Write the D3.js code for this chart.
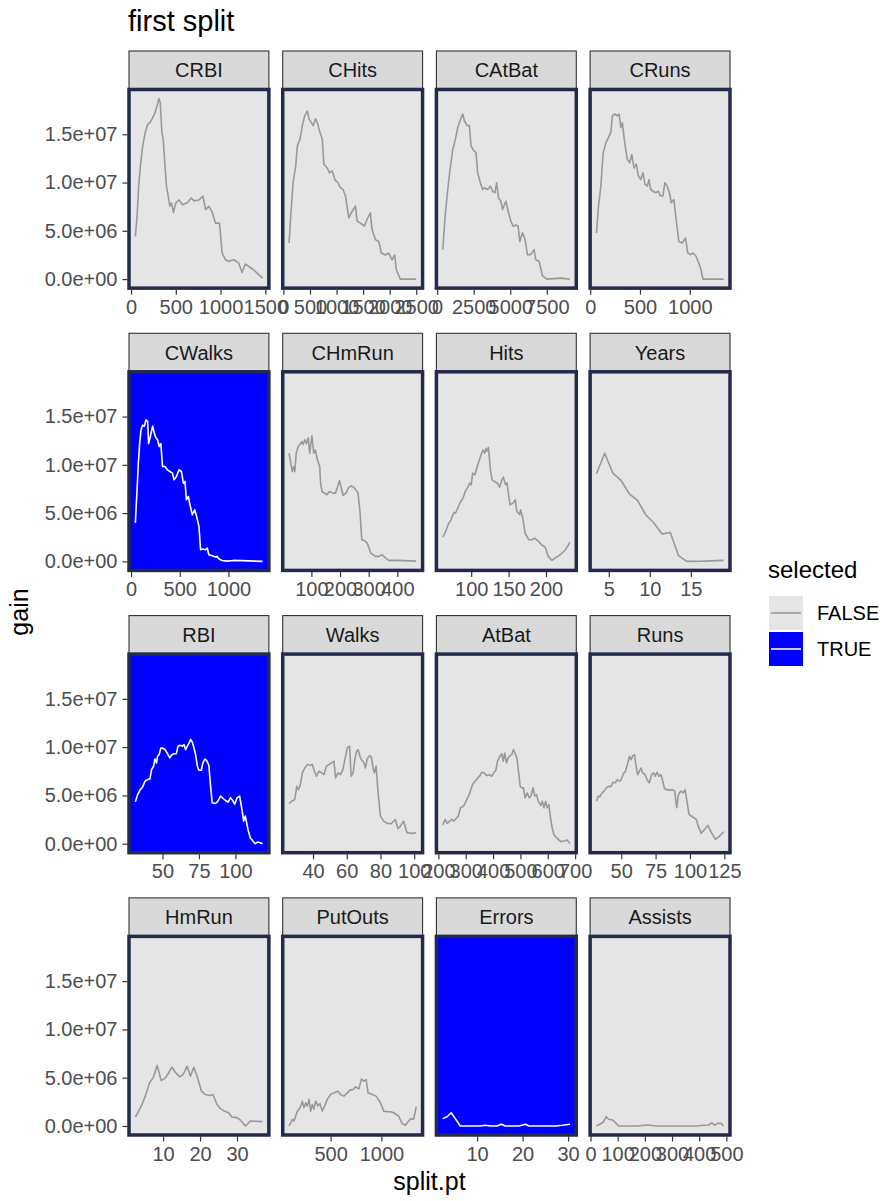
<!DOCTYPE html>
<html>
<head>
<meta charset="utf-8">
<script src="https://cdnjs.cloudflare.com/ajax/libs/d3/7.8.5/d3.min.js"></script>
<style>
body { margin: 0; background: #ffffff; }
text { font-family: "Liberation Sans", Arial, Helvetica, sans-serif; }
</style>
</head>
<body>
<svg width="886" height="1201"></svg>
<script>
// facet order and which variables got picked
var panelNames = ["CRBI", "CHits", "CAtBat", "CRuns", "CWalks", "CHmRun", "Hits", "Years",
    "RBI", "Walks", "AtBat", "Runs", "HmRun", "PutOuts", "Errors", "Assists"];
var selectedPanels = ["CWalks", "RBI", "Errors"];
var legendLabels = ["FALSE", "TRUE"];

// gain values are in millions
var GAIN_UNIT = 1e6;

var crbiSplit = [48,67,85,104,130,159,185,211,240,266,289,311,326,344,359,377,396,415,433,452,474,500,537,574,629,674,703,759,803,833,870,907,944,988,1018,1055,1092,1147,1203,1240,1277,1369,1469];
var crbiGain = [4.43,6.5,9.6,11.7,13.8,15.2,16.0,16.2,16.7,17.2,17.9,18.7,18.3,15.2,14.5,12.0,9.6,8.6,7.55,7.9,6.9,7.9,8.2,7.7,7.9,8.4,8.1,8.2,8.6,7.2,7.55,6.9,5.8,5.8,2.7,2.0,1.84,2.0,1.66,0.69,1.56,0.97,0.1];

var chitsSplit = [106,137,181,231,262,312,356,400,450,481,525,562,606,650,687,731,762,825,869,919,969,1025,1075,1119,1169,1231,1294,1356,1387,1450,1525,1575,1637,1669,1731,1794,1844,1919,1981,2044,2094,2125,2200,2500];
var chitsGain = [3.74,6.5,9.98,11.7,13.8,14.5,15.9,16.9,17.4,16.6,16.2,15.9,16.6,16.0,15.2,14.5,11.9,11.5,11.0,11.2,10.3,9.98,9.46,9.3,8.6,6.34,7.03,7.55,6.0,5.8,5.5,6.2,6.86,5.1,4.09,3.9,2.7,2.5,2.7,2.0,2.5,0.97,0,0];

var catbatSplit = [386,545,727,886,1068,1250,1409,1568,1750,1863,2045,2204,2318,2500,2659,2772,2954,3113,3227,3454,3636,3795,3954,4068,4200,4359,4473,4700,4858,5040,5200,5380,5540,5650,5835,6015,6175,6400,6630,6740,6970,7200,7500,8450,9080];
var catbatGain = [3.05,6.5,9.28,11.4,13.4,14.5,15.7,16.4,17.1,16.4,15.9,15.9,13.8,13.3,13.1,11.0,9.98,9.28,9.46,9.28,9.63,9.1,8.94,9.98,8.4,8.07,7.2,8.07,7.03,6.0,5.47,5.6,5.47,3.9,4.8,4.1,2.53,2.53,3.05,2.0,1.84,0.35,0,0.1,0];

var crunsSplit = [63,83,107,130,157,183,207,223,250,273,290,307,323,340,357,373,397,417,440,463,483,507,530,550,573,590,607,630,657,683,707,730,750,773,800,813,840,863,890,923,957,980,1007,1033,1063,1090,1113,1133,1340];
var crunsGain = [4.78,7.55,9.63,13.1,14.1,14.65,15.2,16.9,17.1,16.9,17.1,15.7,16.2,14.65,13.4,12.4,12.05,12.9,11.5,11.9,10.7,10.3,11.0,9.8,9.63,10.3,9.28,9.1,8.94,9.1,8.6,8.6,9.98,9.63,8.76,7.9,8.24,6.17,3.91,3.74,4.26,2.7,2.53,2.7,2.36,1.66,0.97,0,0];

var cwalksSplit = [44,58,75,88,102,119,136,153,170,180,197,221,238,255,272,289,306,323,347,374,398,425,442,466,493,517,537,554,568,588,605,629,653,673,697,714,738,765,782,799,833,867,884,901,935,986,1054,1350];
var cwalksGain = [3.97,6.72,10.2,12.2,13.6,14.1,14.0,14.65,14.5,12.2,12.9,14.0,13.3,12.8,12.6,11.9,12.2,9.83,9.83,9.48,9.31,9.14,8.45,8.79,9.48,9.31,8.1,8.28,6.38,6.72,5.86,4.83,5.34,4.66,3.62,1.21,1.28,1.21,1.38,0.69,0.59,0.45,0.52,0.28,0.1,0.03,0.1,0];

var chmrunSplit = [22,28,33,38,42,47,54,60,66,71,77,83,89,94,102,108,114,121,129,132,137,146,154,163,175,184,192,198,203,211,221,229,238,247,255,263,270,276,284,295,307,324,336,347,359,370,399,466];
var chmrunGain = [11.2,10.2,9.3,9.83,9.3,11.2,11.9,12.1,12.4,12.1,12.6,12.2,12.8,11.2,13.0,11.2,11.55,10.5,9.83,8.1,7.24,7.07,6.9,7.24,7.07,7.07,7.76,8.38,7.76,6.83,7.07,7.6,7.83,7.69,7.41,7.07,5.0,2.24,2.17,1.9,0.86,0.52,0.52,0.69,0.34,0.1,0.1,0.03];

var hitsSplit = [62,66,69,73,75,77,79,82,86,89,92,96,98,100,102,105,108,111,114,116,118,120,121,123,126,128,131,135,138,141,143,146,148,150,152,156,159,161,165,166,169,172,177,181,185,190,194,199,203,208,212,219,226,232];
var hitsGain = [2.52,3.1,3.8,4.3,4.72,5.07,5.0,5.5,6.2,6.55,7.24,7.76,8.1,7.93,9.14,8.97,9.83,10.5,11.2,11.55,11.2,11.7,11.4,11.8,9.3,8.45,8.28,8.1,7.69,8.45,8.72,7.93,8.1,6.9,5.86,6.03,6.38,5.17,4.83,5.34,4.48,2.93,2.24,2.24,2.41,2.07,1.72,1.45,0.52,0.1,0.34,0.69,1.21,1.97];

var yearsSplit = [3.5,4.5,5.5,6.5,7.5,8.5,9.5,10.5,11.5,12.5,13.5,14.5,16,17.5,19];
var yearsGain = [9.07,11.2,9.14,8.38,7.0,6.31,4.83,3.97,2.83,3.0,0.59,0,0.02,0.05,0.1];

var rbiSplit = [31.4,33,34.8,36.4,38,39.8,41.4,42.5,43.9,44.8,45.9,46.6,47.7,48.9,50,51.8,53.4,55,56.4,58,59.5,60.7,62,63.6,64.8,65.9,67,68.2,69.3,70.5,71.6,72.7,73.9,75,76.6,77.7,79.1,80.2,81.8,83,84.1,86.4,88,89.8,91.6,93.2,95,96.6,98.2,99.5,101.1,102.9,104.5,105.7,106.8,108.6,110.2,112,113.6,115.2,117,118.6];
var rbiGain = [4.33,5.09,5.6,5.88,6.47,6.64,6.71,7.67,8.02,8.77,8.36,9.05,9.22,9.91,9.91,9.74,9.32,8.88,9.22,9.32,9.32,10.1,10.2,10.1,10.25,9.74,10.1,10.4,10.8,10.5,9.91,9.22,8.02,7.6,7.6,8.36,8.77,8.63,8.12,5.95,4.23,4.16,4.4,4.92,4.68,4.47,4.3,4.75,4.47,4.09,4.75,4.92,3.54,2.34,2.86,1.48,0.62,0.28,0,0.17,0.1,0];

var walksSplit = [25.8,27.4,29.2,30.4,31.3,32.3,33.7,35.1,36.7,38.2,39.6,40.6,42,43.5,45.1,46.5,47.9,49.4,51,52.4,53.4,54.8,56.3,57.7,58.9,60.3,61.7,62.6,63.8,64.8,65.8,66.8,67.8,68.7,70.1,71.1,72.1,73.5,74.6,75.6,76.4,77.4,78.6,80,81.9,83.9,86.3,88.8,90.4,91.8,93.7,95.7,98.7,101.2];
var walksGain = [4.16,4.4,4.58,5.95,5.6,5.95,7.33,7.84,8.19,8.12,8.19,7.6,6.98,7.5,7.33,7.15,8.02,8.19,8.36,8.53,6.81,7.33,7.15,7.67,8.7,9.91,10.1,6.98,7.33,8.7,9.56,9.74,9.05,8.7,8.43,7.84,8.77,9.12,8.98,7.84,7.33,8.02,5.26,2.86,2.34,2.1,2.06,2.51,1.55,1.82,2.34,1.14,1.07,1.14];

var atbatSplit = [216,225,232,241,249,256,265,273,281,292,301,310,317,325,334,344,352,359,368,376,386,395,402,410,416,425,432,437,443,449,455,462,468,474,481,487,493,499,505,511,517,525,532,538,546,552,559,565,574,580,586,592,598,604,610,616,622,632,647,659,671,681];
var atbatGain = [1.93,2.51,2.1,2.34,2.51,2.34,2.61,2.86,3.72,3.89,4.4,4.92,5.44,6.12,6.47,6.81,7.05,7.4,7.33,7.05,7.15,6.98,7.33,7.6,8.53,9.05,9.32,8.53,9.39,8.36,8.88,9.12,9.22,9.74,9.32,8.88,7.5,5.95,5.78,5.78,4.75,5.26,4.75,4.92,5.78,4.92,5.09,4.4,3.96,4.4,3.72,4.4,3.72,4.06,2.68,1.65,0.96,0.62,0.21,0.28,0.38,0.03];

var runsSplit = [32,33.2,34.4,36.1,37.5,39.2,40.9,42.3,44,45.7,47.1,48.8,50,51.7,53.1,54.8,56,57.2,58.4,59.6,60.8,62,63.2,64.4,65.6,67.3,68.8,70.4,72.1,73.6,74.8,76,77.6,78.8,80,81.3,82.5,84.1,85.6,87.3,88.9,90.4,91.6,93.3,95,96.4,97.6,99.3,101.7,104.6,106,108.2,110.6,113,115.6,118.5,121.6,124.5];
var runsGain = [4.4,4.92,4.85,5.26,5.44,5.78,5.95,5.88,6.36,6.3,6.64,6.47,6.64,7.26,7.5,8.36,9.05,8.7,9.12,9.22,8.02,7.15,7.5,7.84,7.33,7.15,6.64,6.3,7.15,7.33,6.98,7.4,6.98,7.15,6.64,5.78,5.6,5.6,5.54,5.6,5.44,3.72,5.09,5.44,5.26,5.6,4.58,3.03,2.79,2.51,1.82,1.07,1.48,1.89,1.14,0.45,0.79,1.24];

var hmrunSplit = [2.5,3.4,4.3,5.2,6.3,7.3,8.4,9.5,10.6,11.5,12.4,13.3,14.5,15.4,16.5,17.4,18.3,19.2,20.4,21.4,22.6,23.5,24.6,25.5,26.6,27.7,28.6,30,30.9,32.3,33.6,36.9];
var hmrunGain = [0.93,1.54,2.23,3.09,4.46,4.98,6.25,4.7,4.98,5.49,6.08,5.56,5.08,5.32,6.18,5.15,6.08,5.15,3.6,3.26,3.16,3.26,2.23,1.79,1.54,1.37,0.93,0.86,0.62,0,0.51,0.45];

var putoutsSplit = [91,108,124,140,157,173,189,206,222,238,255,271,287,304,320,336,353,376,395,418,441,467,500,533,572,598,631,664,690,722,745,778,804,827,850,869,909,948,991,1023,1056,1089,1121,1170,1203,1236,1268,1291,1317,1343];
var putoutsGain = [0,0.34,0.69,0.51,1.03,1.54,1.72,2.06,2.57,1.89,2.4,2.06,2.75,1.54,2.23,1.72,2.57,2.06,2.33,1.54,2.06,2.75,3.26,3.43,3.6,3.26,3.09,3.43,3.71,3.78,4.05,3.84,4.87,4.63,4.8,3.43,3.26,3.09,2.4,1.54,1.48,1.48,1.37,1.03,0.27,0.07,0.51,0.76,0.69,1.99];

var errorsSplit = [2.45,3.4,4.3,5.2,6.3,7.8,9.3,10.7,11.8,12.9,14.4,15.3,16.2,17.7,19.2,20.6,21.4,22.5,23.9,25.4,27.2,28.7,30.4];
var errorsGain = [0.76,0.96,1.37,0.76,0,0,0,0,0.07,0,0,0.17,0,0,0,0.17,0,0,0,0,0,0.07,0.17];

var assistsSplit = [22,34,47,58,67,80,92,104,135,172,208,245,294,343,392,417,435,447,456,468,480,490];
var assistsGain = [0,0.17,0.41,0.96,0.69,0.62,0.34,0,0,0,0.1,0,0,0,0,0.07,0.1,0.34,0.07,0.27,0.27,0];

// x tick values per facet (free x scales)
var crbiTicks = [0, 500, 1000, 1500];
var chitsTicks = [0, 500, 1000, 1500, 2000, 2500];
var catbatTicks = [0, 2500, 5000, 7500];
var crunsTicks = [0, 500, 1000];
var cwalksTicks = [0, 500, 1000];
var chmrunTicks = [100, 200, 300, 400];
var hitsTicks = [100, 150, 200];
var yearsTicks = [5, 10, 15];
var rbiTicks = [50, 75, 100];
var walksTicks = [40, 60, 80, 100];
var atbatTicks = [200, 300, 400, 500, 600, 700];
var runsTicks = [50, 75, 100, 125];
var hmrunTicks = [10, 20, 30];
var putoutsTicks = [500, 1000];
var errorsTicks = [10, 20, 30];
var assistsTicks = [0, 100, 200, 300, 400, 500];

var yTicks = [0, 5e6, 1e7, 1.5e7];
var yTickLabels = ["0.0e+00", "5.0e+06", "1.0e+07", "1.5e+07"];

var panelData = {
    CRBI: [crbiSplit, crbiGain, crbiTicks],
    CHits: [chitsSplit, chitsGain, chitsTicks],
    CAtBat: [catbatSplit, catbatGain, catbatTicks],
    CRuns: [crunsSplit, crunsGain, crunsTicks],
    CWalks: [cwalksSplit, cwalksGain, cwalksTicks],
    CHmRun: [chmrunSplit, chmrunGain, chmrunTicks],
    Hits: [hitsSplit, hitsGain, hitsTicks],
    Years: [yearsSplit, yearsGain, yearsTicks],
    RBI: [rbiSplit, rbiGain, rbiTicks],
    Walks: [walksSplit, walksGain, walksTicks],
    AtBat: [atbatSplit, atbatGain, atbatTicks],
    Runs: [runsSplit, runsGain, runsTicks],
    HmRun: [hmrunSplit, hmrunGain, hmrunTicks],
    PutOuts: [putoutsSplit, putoutsGain, putoutsTicks],
    Errors: [errorsSplit, errorsGain, errorsTicks],
    Assists: [assistsSplit, assistsGain, assistsTicks]
};

var svg = d3.select("svg");

var col = d3.scaleBand().domain(d3.range(4)).range([129, 730]).paddingInner(0.09);
var row = d3.scaleBand().domain(d3.range(4)).range([51, 1135]).paddingInner(0.16);
var stripH = 38.5;

var borderColor = "#222B4B";
var selFill = "#0000FF";
var bgFill = "#E5E5E5";

// shared y scale, ggplot style 5% expansion
var allGains = [];
panelNames.forEach(function(n) { allGains = allGains.concat(panelData[n][1]); });
var gMin = d3.min(allGains) * GAIN_UNIT, gMax = d3.max(allGains) * GAIN_UNIT;
var gPad = (gMax - gMin) * 0.05;

svg.append("text")
    .attr("x", 128).attr("y", 31)
    .style("font-size", "29px")
    .style("fill", "#000")
    .text("first split");

panelNames.forEach(function(name, i) {
    var c = i % 4, r = Math.floor(i / 4);
    var left = col(c), w = col.bandwidth();
    var stripTop = row(r);
    var top = stripTop + stripH, bottom = stripTop + row.bandwidth();
    var d = panelData[name];
    var xs = d[0], gs = d[1], ticks = d[2];
    var sel = selectedPanels.indexOf(name) >= 0;

    var xmin = d3.min(xs), xmax = d3.max(xs), xpad = (xmax - xmin) * 0.05;
    var x = d3.scaleLinear().domain([xmin - xpad, xmax + xpad]).range([left, left + w]);
    var y = d3.scaleLinear().domain([gMin - gPad, gMax + gPad]).range([bottom, top]);

    var g = svg.append("g").attr("class", "panel");

    g.append("rect")
        .attr("x", left).attr("y", top)
        .attr("width", w).attr("height", bottom - top)
        .style("fill", sel ? selFill : bgFill);

    var line = d3.line()
        .x(function(j) { return x(xs[j]); })
        .y(function(j) { return y(gs[j] * GAIN_UNIT); });

    g.append("path")
        .datum(d3.range(xs.length))
        .attr("d", line)
        .style("fill", "none")
        .style("stroke", sel ? "#FFFFFF" : "#999999")
        .style("stroke-width", 1.6)
        .style("stroke-linejoin", "round");

    // strip
    g.append("rect")
        .attr("x", left).attr("y", stripTop)
        .attr("width", w).attr("height", stripH)
        .style("fill", "#D9D9D9")
        .style("stroke", "#333333")
        .style("stroke-width", 1.1);
    g.append("text")
        .attr("x", left + w / 2).attr("y", stripTop + stripH / 2)
        .attr("dy", "0.35em")
        .attr("text-anchor", "middle")
        .style("font-size", "20px")
        .style("fill", "#1A1A1A")
        .text(name);

    g.append("rect")
        .attr("x", left).attr("y", top)
        .attr("width", w).attr("height", bottom - top)
        .style("fill", "none")
        .style("stroke", borderColor)
        .style("stroke-width", 3.5);

    var xAxis = g.append("g")
        .attr("transform", "translate(0," + (bottom + 1.5) + ")")
        .call(d3.axisBottom(x).tickValues(ticks).tickFormat(d3.format("d")).tickSize(5).tickPadding(5));
    styleAxis(xAxis);

    if (c == 0) {
        var yAxis = g.append("g")
            .attr("transform", "translate(" + (left - 1.5) + ",0)")
            .call(d3.axisLeft(y).tickValues(yTicks)
                .tickFormat(function(v, k) { return yTickLabels[k]; })
                .tickSize(5).tickPadding(5));
        styleAxis(yAxis);
    }
});

function styleAxis(a) {
    a.select(".domain").remove();
    a.selectAll(".tick line").style("stroke", "#333333").style("stroke-width", 1.2);
    a.selectAll(".tick text")
        .style("font-size", "20px")
        .style("fill", "#4D4D4D")
        .style("font-family", "'Liberation Sans', Arial, sans-serif");
}

// axis titles
svg.append("text")
    .attr("transform", "translate(28,612) rotate(-90)")
    .attr("text-anchor", "middle")
    .style("font-size", "25px")
    .text("gain");

svg.append("text")
    .attr("x", (col(0) + col(3) + col.bandwidth()) / 2).attr("y", 1190)
    .attr("text-anchor", "middle")
    .style("font-size", "25px")
    .text("split.pt");

// legend
var legend = svg.append("g").attr("class", "legend");
legend.append("text")
    .attr("x", 768).attr("y", 578)
    .style("font-size", "24px")
    .text("selected");

legendLabels.forEach(function(lab, k) {
    var ky = 596 + k * 36;
    legend.append("rect")
        .attr("x", 769).attr("y", ky)
        .attr("width", 34).attr("height", 34)
        .style("fill", k == 1 ? selFill : bgFill);
    legend.append("line")
        .attr("x1", 771).attr("x2", 801)
        .attr("y1", ky + 17).attr("y2", ky + 17)
        .style("stroke", k == 1 ? "#FFFFFF" : "#999999")
        .style("stroke-width", 1.6);
    legend.append("text")
        .attr("x", 817).attr("y", ky + 17)
        .attr("dy", "0.35em")
        .style("font-size", "20px")
        .text(lab);
});
</script>
</body>
</html>
